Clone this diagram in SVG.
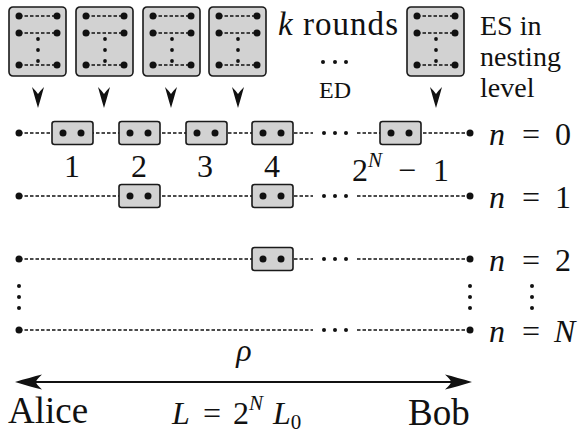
<svg xmlns="http://www.w3.org/2000/svg" width="587" height="433" viewBox="0 0 587 433">
<style>
text{font-family:'Liberation Serif','Times New Roman',serif;fill:#111;}
.i{font-style:italic;}
.box{fill:#d2d2d2;stroke:#1a1a1a;stroke-width:1.6;}
.dl{stroke:#111;stroke-width:1.3;stroke-dasharray:3.5 2;fill:none;}
.dot{fill:#111;}
.arr{fill:#111;}
</style>
<defs>
<g id="bigbox">
<rect class="box" x="0" y="0" width="57" height="69" rx="4"/>
<line class="dl" x1="10" y1="9" x2="48" y2="9"/>
<line class="dl" x1="10" y1="26" x2="48" y2="26"/>
<line class="dl" x1="10" y1="58" x2="48" y2="58"/>
<circle class="dot" cx="10" cy="9" r="3.5"/><circle class="dot" cx="48" cy="9" r="3.5"/>
<circle class="dot" cx="10" cy="26" r="3.5"/><circle class="dot" cx="48" cy="26" r="3.5"/>
<circle class="dot" cx="10" cy="58" r="3.5"/><circle class="dot" cx="48" cy="58" r="3.5"/>
<circle class="dot" cx="29" cy="32" r="1.9"/><circle class="dot" cx="29" cy="43" r="1.9"/><circle class="dot" cx="29" cy="54" r="1.9"/>
</g>
<path id="chev" d="M0,0 Q-3,-10 -6,-21 Q-2,-17 0,-14 Q2,-17 6,-21 Q3,-10 0,0 Z"/>
<g id="sbox">
<rect class="box" x="0" y="-11.5" width="41" height="23" rx="2.5"/>
<circle class="dot" cx="11" cy="0" r="3.5"/><circle class="dot" cx="29" cy="0" r="3.5"/>
</g>
</defs>

<g id="connectors">
<use href="#chev" class="arr" x="38" y="108"/>
<use href="#chev" class="arr" x="104" y="108"/>
<use href="#chev" class="arr" x="171" y="108"/>
<use href="#chev" class="arr" x="238" y="108"/>
<use href="#chev" class="arr" x="436" y="108"/>
<path class="dl" d="M19,133 H313 M357,133 H470"/>
<path class="dl" d="M19,196 H313 M357,196 H470"/>
<path class="dl" d="M19,259 H313 M357,259 H470"/>
<path class="dl" d="M19,330 H313 M357,330 H470"/>
<line x1="22" y1="382" x2="465" y2="382" stroke="#111" stroke-width="2"/>
<path class="arr" d="M472,382 Q457,377.5 445,374.5 Q451,380 451,382 Q451,384 445,389.5 Q457,386.5 472,382 Z"/>
<path class="arr" d="M15,382 Q30,377.5 42,374.5 Q36,380 36,382 Q36,384 42,389.5 Q30,386.5 15,382 Z"/>
</g>

<g id="sources">
<use id="src1" href="#bigbox" x="9" y="7"/>
<use id="src2" href="#bigbox" x="76" y="7"/>
<use id="src3" href="#bigbox" x="143" y="7"/>
<use id="src4" href="#bigbox" x="209" y="7"/>
<use id="src5" href="#bigbox" x="407" y="7"/>
</g>

<g id="row0">
<circle class="dot" cx="19" cy="133" r="3.5"/><circle class="dot" cx="470" cy="133" r="3.5"/>
<circle class="dot" cx="324" cy="133" r="2"/><circle class="dot" cx="335" cy="133" r="2"/><circle class="dot" cx="346" cy="133" r="2"/>
<use href="#sbox" x="52" y="133"/>
<use href="#sbox" x="119" y="133"/>
<use href="#sbox" x="186" y="133"/>
<use href="#sbox" x="252" y="133"/>
<use href="#sbox" x="380" y="133"/>
<text x="72" y="177" font-size="32" text-anchor="middle">1</text>
<text x="139" y="177" font-size="32" text-anchor="middle">2</text>
<text x="205" y="177" font-size="32" text-anchor="middle">3</text>
<text x="272" y="177" font-size="32" text-anchor="middle">4</text>
<text x="352" y="181" font-size="32">2<tspan class="i" font-size="21" dy="-14">N</tspan><tspan x="398" dy="14">−</tspan><tspan x="433">1</tspan></text>
<text x="489" y="145" font-size="32"><tspan class="i">n</tspan><tspan x="522">=</tspan><tspan x="555">0</tspan></text>
</g>

<g id="row1">
<circle class="dot" cx="19" cy="196" r="3.5"/><circle class="dot" cx="470" cy="196" r="3.5"/>
<circle class="dot" cx="324" cy="196" r="2"/><circle class="dot" cx="335" cy="196" r="2"/><circle class="dot" cx="346" cy="196" r="2"/>
<use href="#sbox" x="119" y="196"/>
<use href="#sbox" x="252" y="196"/>
<text x="489" y="208" font-size="32"><tspan class="i">n</tspan><tspan x="522">=</tspan><tspan x="555">1</tspan></text>
</g>

<g id="row2">
<circle class="dot" cx="19" cy="259" r="3.5"/><circle class="dot" cx="470" cy="259" r="3.5"/>
<circle class="dot" cx="324" cy="259" r="2"/><circle class="dot" cx="335" cy="259" r="2"/><circle class="dot" cx="346" cy="259" r="2"/>
<use href="#sbox" x="252" y="259"/>
<text x="489" y="271" font-size="32"><tspan class="i">n</tspan><tspan x="522">=</tspan><tspan x="555">2</tspan></text>
</g>

<g id="vdots">
<circle class="dot" cx="19" cy="286" r="2"/><circle class="dot" cx="19" cy="297" r="2"/><circle class="dot" cx="19" cy="308" r="2"/>
<circle class="dot" cx="470" cy="286" r="2"/><circle class="dot" cx="470" cy="297" r="2"/><circle class="dot" cx="470" cy="308" r="2"/>
<circle class="dot" cx="532" cy="286" r="2"/><circle class="dot" cx="532" cy="297" r="2"/><circle class="dot" cx="532" cy="308" r="2"/>
</g>

<g id="rowN">
<circle class="dot" cx="19" cy="330" r="3.5"/><circle class="dot" cx="470" cy="330" r="3.5"/>
<circle class="dot" cx="324" cy="330" r="2"/><circle class="dot" cx="335" cy="330" r="2"/><circle class="dot" cx="346" cy="330" r="2"/>
<text x="489" y="342" font-size="32"><tspan class="i">n</tspan><tspan x="522">=</tspan><tspan class="i" x="554">N</tspan></text>
</g>

<g id="labels">
<text x="278" y="35" font-size="33" textLength="120"><tspan class="i">k</tspan> rounds</text>
<circle class="dot" cx="323" cy="62" r="2"/><circle class="dot" cx="335" cy="62" r="2"/><circle class="dot" cx="346" cy="62" r="2"/>
<text x="335" y="98" font-size="24" text-anchor="middle">ED</text>
<text x="480" y="35" font-size="28">ES in</text>
<text x="480" y="66" font-size="28">nesting</text>
<text x="480" y="97" font-size="28">level</text>
<text class="i" x="244" y="361" font-size="32" text-anchor="middle">ρ</text>
<text x="8" y="423" font-size="37">Alice</text>
<text x="408" y="425" font-size="37">Bob</text>
<text x="172" y="424" font-size="32"><tspan class="i">L</tspan><tspan x="203">=</tspan><tspan x="233">2</tspan><tspan class="i" font-size="21" dy="-14">N</tspan><tspan class="i" x="273" dy="14">L</tspan><tspan font-size="21" dy="5">0</tspan></text>
</g>
</svg>
